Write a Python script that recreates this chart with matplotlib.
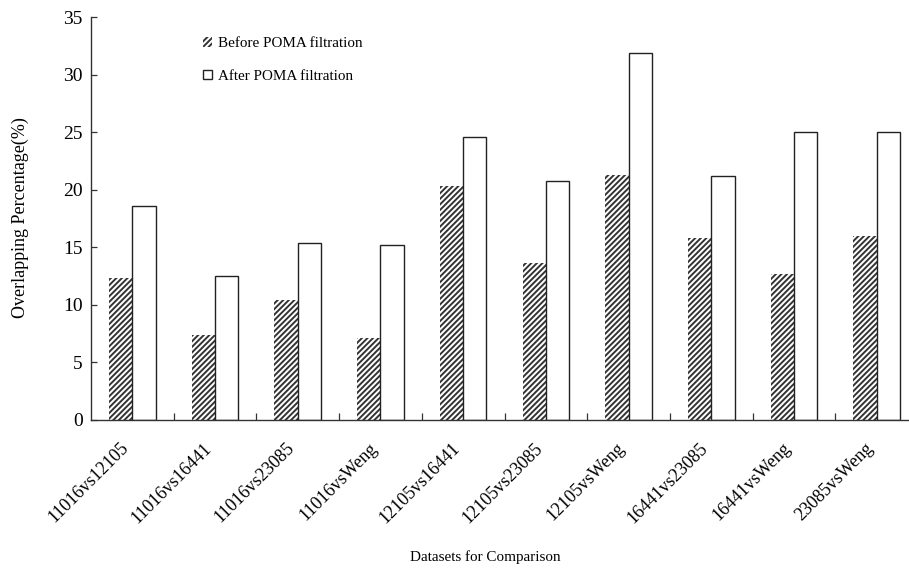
import numpy as np
import matplotlib
matplotlib.use('Agg')
import matplotlib.pyplot as plt
from matplotlib.ticker import MultipleLocator, FixedLocator

plt.rcParams['font.family'] = ['Liberation Serif', 'DejaVu Serif']
plt.rcParams['hatch.linewidth'] = 1.4

# Data
pairs = ['11016vs12105', '11016vs16441', '11016vs23085', '11016vsWeng', '12105vs16441',
         '12105vs23085', '12105vsWeng', '16441vs23085', '16441vsWeng', '23085vsWeng']
before = [12.3, 7.4, 10.4, 7.1, 20.3, 13.6, 21.3, 15.8, 12.7, 16.0]
after = [18.6, 12.5, 15.4, 15.2, 24.6, 20.8, 31.9, 21.2, 25.0, 25.0]

W, H = 909, 568
fig = plt.figure(figsize=(W / 100, H / 100), dpi=100)
ax = fig.add_axes([91 / W, (H - 420) / H, 827 / W, 403 / H])

x = np.arange(len(pairs))
bw = 0.282
ax.bar(x - bw / 2, before, bw, color='white', edgecolor='#333333', linewidth=0,
       hatch='//////', label='Before POMA filtration')
ax.bar(x + bw / 2, after, bw, color='white', edgecolor='#222222', linewidth=1.0,
       label='After POMA filtration')

ax.set_xlim(-0.5, len(pairs) - 0.5)
ax.set_ylim(0, 35)
ax.yaxis.set_major_locator(MultipleLocator(5))
ax.set_xticks(x)
ax.set_xticklabels(pairs, rotation=45, ha='right', fontsize=13)
ax.xaxis.set_minor_locator(FixedLocator(x[:-1] + 0.5))
ax.tick_params(axis='x', which='major', length=0, pad=14)
ax.tick_params(axis='x', which='minor', direction='in', length=5, width=0.9, color='#333333')
ax.tick_params(axis='y', direction='in', length=4, width=0.9, color='#333333', labelsize=14, pad=6)

for s in ['top', 'right']:
    ax.spines[s].set_visible(False)
for s in ['left', 'bottom']:
    ax.spines[s].set_linewidth(1.0)
    ax.spines[s].set_color('#333333')

fig.text(20 / W, 1 - 218 / H, 'Overlapping Percentage(%)', rotation=90,
         ha='center', va='center', fontsize=13)
fig.text(485 / W, 1 - 557 / H, 'Datasets for Comparison', ha='center', va='center', fontsize=10.9)

ax.legend(loc='upper left', bbox_to_anchor=(203 / W, 1 - 37 / H),
          bbox_transform=fig.transFigure, frameon=False, fontsize=10.9,
          handlelength=0.6, handleheight=0.6, handletextpad=0.4,
          labelspacing=1.3, borderpad=0, borderaxespad=0)

fig.savefig('out.png', dpi=100)
